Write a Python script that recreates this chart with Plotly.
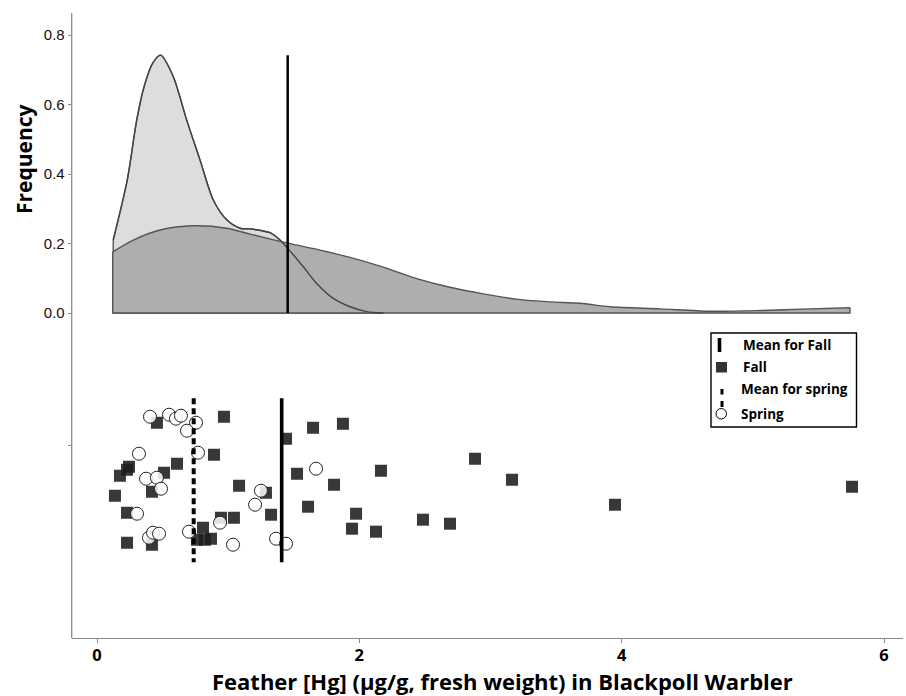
import plotly.graph_objects as go

W, H = 906, 696

# ---- data -------------------------------------------------------------
# Feather Hg (ug/g) for individual birds, with vertical jitter for display
fall_hg = [0.968, 0.457, 1.441, 1.875, 1.647, 0.892, 0.610, 0.244, 0.229, 0.175,
           0.511, 1.525, 2.165, 2.882, 3.164, 1.807, 1.083, 1.288, 0.419, 0.137,
           0.229, 1.609, 0.945, 1.044, 1.327, 1.975, 1.944, 2.127, 2.485, 2.691,
           3.949, 5.756, 0.808, 0.762, 0.823, 0.869, 0.229, 0.419]
fall_jitter = [0.29, 0.23, 0.07, 0.22, 0.18, -0.09, -0.18, -0.21, -0.24, -0.30,
               -0.27, -0.28, -0.25, -0.13, -0.34, -0.39, -0.40, -0.47, -0.46, -0.50,
               -0.67, -0.61, -0.72, -0.72, -0.69, -0.68, -0.83, -0.86, -0.74, -0.78,
               -0.59, -0.41, -0.82, -0.94, -0.94, -0.93, -0.97, -0.99]

spring_hg = [0.404, 0.549, 0.602, 0.640, 0.755, 0.686, 0.320, 0.770, 0.374, 0.457,
             0.488, 1.250, 1.205, 0.305, 0.938, 0.701, 0.396, 0.427, 0.473, 1.037,
             1.365, 1.441, 1.670]
spring_jitter = [0.29, 0.31, 0.27, 0.30, 0.23, 0.15, -0.08, -0.07, -0.33, -0.32,
                 -0.43, -0.45, -0.59, -0.68, -0.77, -0.86, -0.92, -0.87, -0.88, -0.99,
                 -0.93, -0.98, -0.23]

fall_mean = 1.408
spring_mean = 0.737

# Kernel density curves (frequency)
spring_dx = [0.078, 0.185, 0.257, 0.313, 0.379, 0.440, 0.536, 0.638, 0.740, 0.841,
             0.943, 1.044, 1.121, 1.273, 1.349, 1.408, 1.527, 1.629, 1.756, 1.883,
             2.010, 2.137]
spring_dy = [0.210, 0.383, 0.555, 0.651, 0.719, 0.742, 0.680, 0.555, 0.440, 0.325,
             0.268, 0.244, 0.242, 0.231, 0.210, 0.186, 0.133, 0.085, 0.042, 0.018,
             0.004, 0.0]

fall_dx = [0.074, 0.231, 0.435, 0.688, 0.943, 1.121, 1.408, 1.654, 1.883, 2.137,
           2.392, 2.645, 2.899, 3.154, 3.408, 3.637, 3.865, 4.246, 4.627, 5.009,
           5.390, 5.695]
fall_dy = [0.176, 0.210, 0.239, 0.251, 0.244, 0.227, 0.201, 0.181, 0.160, 0.132,
           0.099, 0.074, 0.055, 0.040, 0.032, 0.028, 0.018, 0.012, 0.005, 0.007,
           0.012, 0.015]

x_ticks = [0, 2, 4, 6]
freq_ticks = [0.0, 0.2, 0.4, 0.6, 0.8]
mean_line_span = (0.474, -1.166)

# ---- helpers ----------------------------------------------------------
def px(x):
    return x / W


def py(y):
    return 1 - y / H


AX_GREY = "#8a8a8a"
LINE_GREY = "#555555"
SPLINE = dict(shape="spline", smoothing=0.8)


def density_area(xs, ys, fill, line_color):
    """Filled density curve plus its straight outline edges."""
    area = go.Scatter(
        x=xs, y=ys, mode="lines", fill="tozeroy", fillcolor=fill,
        line=dict(color=line_color, width=1.4, **SPLINE),
        xaxis="x2", yaxis="y2", hoverinfo="skip", showlegend=False)
    edges = go.Scatter(
        x=[xs[-1], xs[-1], xs[0], xs[0]], y=[ys[-1], 0, 0, ys[0]],
        mode="lines", line=dict(color=line_color, width=1.4),
        xaxis="x2", yaxis="y2", hoverinfo="skip", showlegend=False)
    return area, edges


fig = go.Figure()

# --- density panel (top) ---
fig.add_traces(density_area(spring_dx, spring_dy, "#dddddd", LINE_GREY))
fig.add_traces(density_area(fall_dx, fall_dy, "#aeaeae", LINE_GREY))
fig.add_trace(go.Scatter(
    x=spring_dx, y=spring_dy, mode="lines",
    line=dict(color="#444444", width=1.4, **SPLINE),
    xaxis="x2", yaxis="y2", hoverinfo="skip", showlegend=False))
fig.add_trace(go.Scatter(
    x=[fall_mean, fall_mean], y=[0, max(spring_dy)], mode="lines",
    line=dict(color="black", width=2.5),
    xaxis="x2", yaxis="y2", hoverinfo="skip", showlegend=False))

# --- individual points (bottom) ---
fig.add_trace(go.Scatter(
    x=fall_hg, y=fall_jitter, mode="markers", name="Fall",
    marker=dict(symbol="square", size=12, color="rgba(29,29,29,0.88)",
                line=dict(width=0)),
    showlegend=False))
fig.add_trace(go.Scatter(
    x=spring_hg, y=spring_jitter, mode="markers", name="Spring",
    marker=dict(symbol="circle", size=13, color="rgba(255,255,255,0.85)",
                line=dict(color="#222222", width=1)),
    showlegend=False))
fig.add_trace(go.Scatter(
    x=[spring_mean, spring_mean], y=list(mean_line_span), mode="lines",
    line=dict(color="black", width=4, dash="6px,4px"),
    hoverinfo="skip", showlegend=False))
fig.add_trace(go.Scatter(
    x=[fall_mean, fall_mean], y=list(mean_line_span), mode="lines",
    line=dict(color="black", width=3.6),
    hoverinfo="skip", showlegend=False))

# ---- axes -------------------------------------------------------------
x_left, x_right = 71.7, 903
x0_px, unit_px = 97.0, 131.17
xr = [(x_left - x0_px) / unit_px, (x_right - x0_px) / unit_px]
shift = 6.0 / unit_px

fig.update_layout(
    width=W, height=H,
    margin=dict(l=0, r=0, t=0, b=0),
    paper_bgcolor="white", plot_bgcolor="white",
    xaxis=dict(domain=[px(x_left), px(x_right)], range=xr, anchor="y",
               showgrid=False, zeroline=False, showline=True,
               linecolor=AX_GREY, linewidth=1.3,
               tickmode="array", tickvals=x_ticks,
               ticks="outside", ticklen=4, tickcolor=AX_GREY, tickwidth=1.3,
               ticklabelstandoff=-2,
               tickfont=dict(family="Open Sans", size=16.5, color="black",
                             weight="bold")),
    yaxis=dict(domain=[py(638), py(330)],
               range=[(445.7 - 638) / 100, (445.7 - 330) / 100],
               showgrid=False, zeroline=False, showline=False,
               tickmode="array", tickvals=[0], ticktext=[""],
               ticks="outside", ticklen=3, tickcolor=AX_GREY, tickwidth=1.3),
    xaxis2=dict(domain=[px(x_left), px(x_right)],
                range=[xr[0] - shift, xr[1] - shift], anchor="y2",
                visible=False),
    yaxis2=dict(domain=[py(320), py(13)],
                range=[(313 - 320) * 0.8 / 278, (313 - 13) * 0.8 / 278],
                anchor="x2", showgrid=False, zeroline=False, showline=False,
                tickmode="array", tickvals=freq_ticks, tickformat=".1f",
                ticks="outside", ticklen=3, tickcolor=AX_GREY, tickwidth=1.3,
                tickfont=dict(family="Liberation Sans", size=15, color="#111111")),
)

shapes = [
    # continuous left axis spine for both panels
    dict(type="line", xref="paper", yref="paper",
         x0=px(x_left), x1=px(x_left), y0=py(13), y1=py(638),
         line=dict(color=AX_GREY, width=1.3)),
    # legend frame
    dict(type="rect", xref="paper", yref="paper",
         x0=px(711), x1=px(856.5), y0=py(333), y1=py(427),
         line=dict(color="black", width=1.4), fillcolor="white"),
    # legend symbols
    dict(type="line", xref="paper", yref="paper",
         x0=px(719.5), x1=px(719.5), y0=py(338), y1=py(352),
         line=dict(color="black", width=3.6)),
    dict(type="rect", xref="paper", yref="paper",
         x0=px(716), x1=px(727), y0=py(362), y1=py(372.5),
         line=dict(width=0), fillcolor="#333333"),
    dict(type="rect", xref="paper", yref="paper",
         x0=px(720.5), x1=px(723.5), y0=py(389), y1=py(394.5),
         line=dict(width=0), fillcolor="black"),
    dict(type="rect", xref="paper", yref="paper",
         x0=px(720.5), x1=px(723.5), y0=py(401), y1=py(407),
         line=dict(width=0), fillcolor="black"),
    dict(type="circle", xref="paper", yref="paper",
         x0=px(716), x1=px(726.5), y0=py(408.5), y1=py(419),
         line=dict(color="black", width=1), fillcolor="white"),
]
fig.update_layout(shapes=shapes)

LEG_FONT = dict(family="Open Sans", size=13.5, color="black", weight="bold")
legend_items = [("Mean for Fall", 740.5, 344.5),
                ("Fall", 741, 367),
                ("Mean for spring", 739, 388.5),
                ("Spring", 738.5, 414)]
annotations = [
    dict(text=t, x=px(xx), y=py(yy), xref="paper", yref="paper",
         xanchor="left", yanchor="middle", showarrow=False, font=LEG_FONT)
    for t, xx, yy in legend_items
]
annotations.append(dict(
    text="Frequency", x=px(24), y=py(159), xref="paper", yref="paper",
    xanchor="center", yanchor="middle", textangle=-90, showarrow=False,
    font=dict(family="Open Sans", size=21, color="black", weight="bold")))
annotations.append(dict(
    text="Feather [Hg] (µg/g, fresh weight) in Blackpoll Warbler",
    x=px(502), y=py(681), xref="paper", yref="paper",
    xanchor="center", yanchor="middle", showarrow=False,
    font=dict(family="Open Sans", size=22, color="black", weight="bold")))
fig.update_layout(annotations=annotations)

fig.write_html("out.html")
